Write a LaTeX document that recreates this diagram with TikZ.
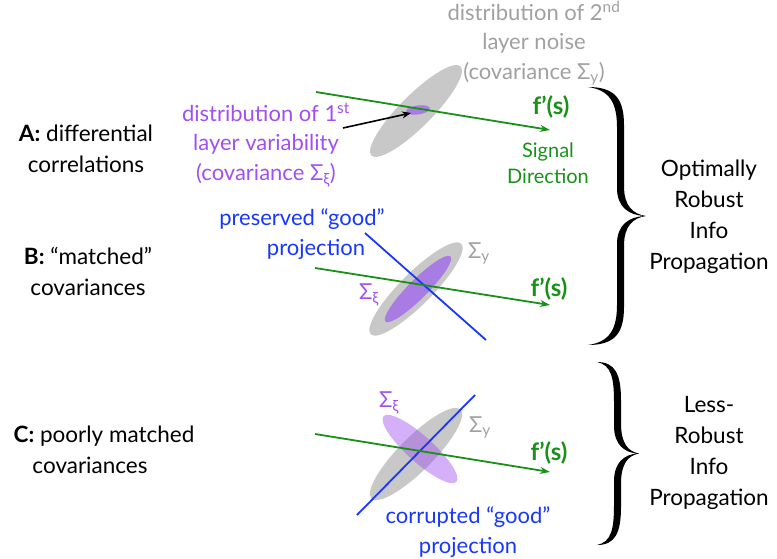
\documentclass[tikz,border=0pt]{standalone}
\usepackage{fontspec}
\setmainfont{Lato}
\usetikzlibrary{arrows.meta}

\definecolor{sgreen}{RGB}{25,145,25}
\definecolor{spurple}{RGB}{160,80,240}
\definecolor{epurple}{RGB}{168,124,226}
\definecolor{tgray}{RGB}{160,160,160}
\definecolor{egray}{RGB}{200,200,200}
\definecolor{sblue}{RGB}{25,55,250}

\tikzset{
  lbl/.style={font=\fontsize{22.5}{31}\selectfont, align=center, inner sep=0pt},
  mid/.style={font=\fontsize{22}{29.5}\selectfont, align=center, inner sep=0pt},
  small/.style={font=\fontsize{20}{26}\selectfont, align=center, inner sep=0pt},
  fsig/.style={font=\fontsize{24}{28}\selectfont\bfseries, text=sgreen, inner sep=0pt},
  sigline/.style={draw=sgreen, line width=1.8pt, -{Stealth[length=10pt,width=7pt]}},
  projline/.style={draw=sblue, line width=1.8pt},
  noise/.style={fill=egray}
}

% filled curly brace: shift, height, spine x, tip x (relative to the top end)
\newcommand{\bigbrace}[4]{%
  \begin{scope}[shift={(#1)}]
    \pgfmathsetmacro{\bh}{#2}
    \pgfmathsetmacro{\bm}{#2/2}
    \pgfmathsetmacro{\bs}{#3}
    \pgfmathsetmacro{\bi}{#3-7}
    \pgfmathsetmacro{\bd}{#4}
    \pgfmathsetmacro{\bk}{#3+0.4*(#4-#3)}
    \fill (0,0) .. controls (0.75*\bs,0) and (\bs,12) .. (\bs,38)
      -- (\bs,\bm-30) .. controls (\bs,\bm-10) and (\bk,\bm-2) .. (\bd,\bm)
      .. controls (\bk,\bm+2) and (\bs,\bm+10) .. (\bs,\bm+30)
      -- (\bs,\bh-38) .. controls (\bs,\bh-12) and (0.75*\bs,\bh) .. (0,\bh)
      .. controls (0.6*\bs,\bh-3) and (\bi,\bh-16) .. (\bi,\bh-40)
      -- (\bi,\bm+28) .. controls (\bi,\bm+8) and (\bk-3,\bm+1) .. (\bd-2,\bm)
      .. controls (\bk-3,\bm-1) and (\bi,\bm-8) .. (\bi,\bm-28)
      -- (\bi,40) .. controls (\bi,16) and (0.6*\bs,3) .. (0,0) -- cycle;
  \end{scope}}

\begin{document}
\begin{tikzpicture}[x=1pt,y=-1pt]
\useasboundingbox (0,0) rectangle (777,559);

% ---------- A: differential correlations ----------
\node[lbl] (labA) at (86,149) {\textbf{A:} differential\\correlations};
\fill[noise, rotate around={45:(416,111)}] (416,111) ellipse [x radius=63, y radius=16];
\fill[epurple, rotate around={8:(418,110)}] (418,110) ellipse [x radius=12, y radius=4.5];
\coordinate (gA0) at (316,92);
\coordinate (gA1) at (550,130);
\draw[sigline] (gA0) -- (gA1);
\node[fsig] (fA) at (551,107) {f’(s)};
\node[small, text=sgreen] (sigdir) at (548,163) {Signal\\Direction};
\node[mid, text=tgray] (noise2) at (534,43) {distribution of 2\textsuperscript{nd}\\layer noise\\(covariance Σ\textsubscript{y})};
\node[mid, text=spurple] (var1) at (266,145) {distribution of 1\textsuperscript{st}\\layer variability\\(covariance Σ\textsubscript{ξ})};
\coordinate (arrA0) at (343,128);
\coordinate (arrA1) at (411,113);
\draw[line width=1.6pt, -{Stealth[length=9pt,width=7pt]}] (arrA0) -- (arrA1);

% ---------- B: matched covariances ----------
\node[lbl] (labB) at (88,271) {\textbf{B:} “matched”\\covariances};
\fill[noise, rotate around={45:(416,289)}] (416,289) ellipse [x radius=64, y radius=16];
\fill[epurple, rotate around={45:(418,289)}] (418,289) ellipse [x radius=46, y radius=9.5];
\node[mid, text=sblue] (goodB) at (302,234) {preserved “good”\\\hspace*{28pt}projection};
\coordinate (pB0) at (365,233);
\coordinate (pB1) at (486,340);
\draw[projline] (pB0) -- (pB1);
\coordinate (gB0) at (315,268);
\coordinate (gB1) at (550,305);
\draw[sigline] (gB0) -- (gB1);
\node[mid, text=tgray] (syB) at (479,253) {Σ\textsubscript{y}};
\node[mid, text=spurple] (sxB) at (369,295) {Σ\textsubscript{ξ}};
\node[fsig] (fB) at (549,289) {f’(s)};

% ---------- C: poorly matched covariances ----------
\node[lbl] (labC) at (104,450) {\textbf{C:} poorly matched\\\hspace*{-28pt}covariances};
\fill[noise, rotate around={45:(416,454)}] (416,454) ellipse [x radius=63, y radius=17];
\fill[spurple, opacity=0.45, rotate around={-42:(420,449)}] (420,449) ellipse [x radius=49, y radius=13];
\coordinate (pC0) at (357,515);
\coordinate (pC1) at (475,395);
\draw[projline] (pC0) -- (pC1);
\coordinate (gC0) at (315,434);
\coordinate (gC1) at (550,472);
\draw[sigline] (gC0) -- (gC1);
\node[mid, text=spurple] (sxC) at (389,403) {Σ\textsubscript{ξ}};
\node[mid, text=tgray] (syC) at (480,427) {Σ\textsubscript{y}};
\node[fsig] (fC) at (549,453) {f’(s)};
\node[mid, text=sblue] (badC) at (468,532) {corrupted “good”\\projection};

% ---------- braces and outcomes ----------
\bigbrace{588,87}{258}{36}{58}
\bigbrace{597,362}{183}{24}{42}
\node[lbl] (outTop) at (709,217) {Optimally\\Robust\\Info\\Propagation};
\node[lbl] (outBot) at (709,453) {Less-\\Robust\\Info\\Propagation};
\end{tikzpicture}
\end{document}
